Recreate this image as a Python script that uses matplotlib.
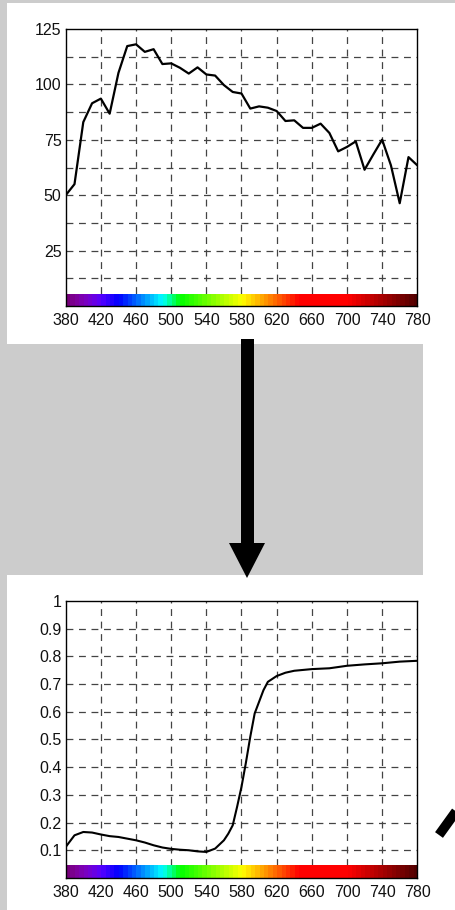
import numpy as np
import matplotlib
matplotlib.use('Agg')
import matplotlib.pyplot as plt
from matplotlib.patches import Rectangle, Polygon

plt.rcParams['font.family'] = ['Liberation Sans', 'DejaVu Sans']

# top panel: light source spectrum, 10 nm steps
wl_top = [380, 390, 400, 410, 420, 430, 440, 450, 460, 470, 480, 490, 500,
          510, 520, 530, 540, 550, 560, 570, 580, 590, 600, 610, 620, 630,
          640, 650, 660, 670, 680, 690, 700, 710, 720, 730, 740, 750, 760,
          770, 780]
power_top = [50, 55, 83, 91.5, 93.6, 86.8, 105.2, 117.3, 118.1, 114.7, 115.9,
             109.2, 109.5, 107.5, 104.9, 107.7, 104.5, 104, 99.7, 96.6, 95.9,
             89.1, 90.1, 89.5, 88, 83.5, 83.8, 80.4, 80.4, 82.3, 78.1, 69.8,
             71.8, 74.3, 61.5, 68.4, 75.1, 63.5, 46.4, 67.2, 63.5]

# bottom panel: reflectance curve
wl_bot = [380, 390, 400, 410, 420, 430, 440, 450, 460, 470, 480, 490, 500,
          510, 520, 530, 540, 550, 560, 565, 570, 575, 580, 585, 590, 595,
          600, 605, 610, 620, 630, 640, 660, 680, 700, 720, 740, 760, 780]
refl_bot = [0.112, 0.154, 0.166, 0.164, 0.157, 0.151, 0.148, 0.142, 0.136,
            0.128, 0.118, 0.110, 0.105, 0.102, 0.100, 0.096, 0.094, 0.106,
            0.136, 0.160, 0.190, 0.257, 0.329, 0.416, 0.510, 0.594, 0.636,
            0.678, 0.708, 0.729, 0.741, 0.748, 0.754, 0.757, 0.766, 0.771,
            0.775, 0.781, 0.784]

xticks = [380, 420, 460, 500, 540, 580, 620, 660, 700, 740, 780]
top_yticks = [25, 50, 75, 100, 125]
bot_yticks = [0.1, 0.2, 0.3, 0.4, 0.5, 0.6, 0.7, 0.8, 0.9, 1]
bot_ylabels = ['0.1', '0.2', '0.3', '0.4', '0.5', '0.6', '0.7', '0.8', '0.9', '1']


def wavelength_rgb(w):
    if w < 440:
        r, g, b = -(w - 440) / 60, 0.0, 1.0
    elif w < 490:
        r, g, b = 0.0, (w - 440) / 50, 1.0
    elif w < 510:
        r, g, b = 0.0, 1.0, -(w - 510) / 20
    elif w < 580:
        r, g, b = (w - 510) / 70, 1.0, 0.0
    elif w < 645:
        r, g, b = 1.0, -(w - 645) / 65, 0.0
    else:
        r, g, b = 1.0, 0.0, 0.0
    if w < 420:
        f = 0.45 + 0.55 * (w - 380) / 40
    elif w > 700:
        f = 0.3 + 0.7 * (780 - w) / 80
    else:
        f = 1.0
    return [r * f, g * f, b * f]


band_wl = np.arange(382.5, 780, 5)
band = np.array([[wavelength_rgb(w) for w in band_wl]])

fig = plt.figure(figsize=(4.56, 9.10), dpi=100)
fig.patch.set_facecolor('#cccccc')

W, H = 456.0, 910.0


def px_rect(x0, y0, x1, y1, color):
    fig.patches.append(Rectangle((x0 / W, 1 - y1 / H), (x1 - x0) / W, (y1 - y0) / H,
                                 transform=fig.transFigure, facecolor=color,
                                 edgecolor='none', zorder=-5))


px_rect(7, 3, 456, 344, 'white')
px_rect(423, 344, 456, 575, 'white')
px_rect(7, 575, 456, 910, 'white')


def setup(ax, ylim, yticks, ylabels, hlines, bar_h):
    ax.set_xlim(380, 780)
    ax.set_ylim(*ylim)
    ax.set_xticks(xticks)
    ax.set_yticks(yticks)
    ax.set_yticklabels(ylabels)
    for x in xticks[1:-1]:
        ax.axvline(x, color='#444444', lw=0.9, ls=(0, (5.5, 4.5)), zorder=1)
    for y in hlines:
        ax.axhline(y, color='#444444', lw=0.9, ls=(0, (5.5, 4.5)), zorder=1)
    ax.imshow(band, extent=[380, 780, ylim[0], ylim[0] + bar_h], aspect='auto',
              interpolation='nearest', zorder=3)
    ax.set_xlim(380, 780)
    ax.set_ylim(*ylim)
    ax.tick_params(length=0, labelsize=11.5, colors='#111111')
    ax.tick_params(axis='x', pad=5)
    ax.tick_params(axis='y', pad=3)
    for s in ax.spines.values():
        s.set_linewidth(1.0)
        s.set_zorder(4)


ax1 = fig.add_axes([0.1441, 0.6637, 0.771, 0.3044])
setup(ax1, (0, 125), top_yticks, [str(t) for t in top_yticks],
      [12.5, 25, 37.5, 50, 62.5, 75, 87.5, 100, 112.5], 5.4)
ax1.plot(wl_top, power_top, color='black', lw=1.6, zorder=2)

ax2 = fig.add_axes([0.1441, 0.0352, 0.771, 0.3044])
setup(ax2, (0, 1), bot_yticks, bot_ylabels,
      [0.1, 0.2, 0.3, 0.4, 0.5, 0.6, 0.7, 0.8, 0.9], 0.044)
ax2.plot(wl_bot, refl_bot, color='black', lw=1.5, zorder=2)

# big arrow between the panels
shaft = Rectangle((241 / W, 1 - 545 / H), 12.7 / W, (545 - 339) / H,
                  transform=fig.transFigure, facecolor='black', edgecolor='none', zorder=5)
head = Polygon([(229 / W, 1 - 543 / H), (265 / W, 1 - 543 / H), (247 / W, 1 - 578 / H)],
               closed=True, transform=fig.transFigure, facecolor='black',
               edgecolor='none', zorder=5)
fig.patches.extend([shaft, head])

# piece of another arrow at the lower right edge
fig.lines.append(plt.Line2D([439 / W, 470 / W], [1 - 835 / H, 1 - 792 / H],
                            transform=fig.transFigure, color='black', lw=7,
                            solid_capstyle='butt', zorder=5))

fig.savefig('out.png', dpi=100, facecolor=fig.get_facecolor())
